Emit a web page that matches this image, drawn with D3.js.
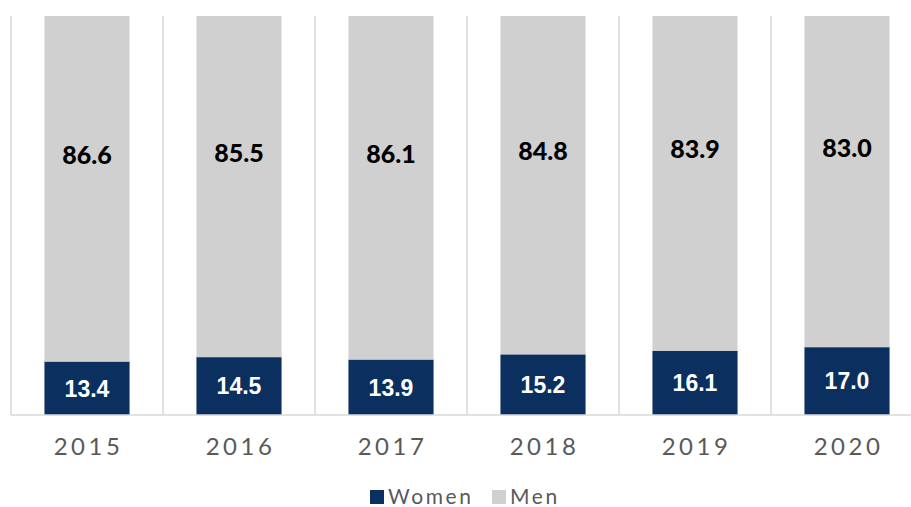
<!DOCTYPE html>
<html>
<head>
<meta charset="utf-8">
<script src="https://cdn.jsdelivr.net/npm/d3@7"></script>
<style>
  html, body { margin: 0; padding: 0; background: #fff; }
  svg { display: block; }
  .lbl-women { font-family: "Liberation Sans", Arial, Helvetica, sans-serif; font-weight: 700; }
  .lbl-men { font-family: Lato, "Noto Sans", sans-serif; font-weight: 900; }
  .cat, .legend-text { font-family: Lato, "Noto Sans", sans-serif; }
</style>
</head>
<body>
<div id="chart"></div>
<script>
(function(){
  "use strict";

  // chart data
  const years = ["2015", "2016", "2017", "2018", "2019", "2020"];
  const women = [13.4, 14.5, 13.9, 15.2, 16.1, 17.0];
  const men = [86.6, 85.5, 86.1, 84.8, 83.9, 83.0];
  const seriesNames = ["Women", "Men"];

  const colors = { Women: "#0b2f5f", Men: "#cfd0cf" };

  const width = 911, height = 507;
  const plot = { left: 11, right: 923, top: 16, bottom: 415 };

  const svg = d3.select("#chart").append("svg")
    .attr("width", width)
    .attr("height", height);

  // scales: plot runs past the right edge, as in the original crop
  const padOuter = 0.22;
  const x = d3.scaleBand()
    .domain(years)
    .range([plot.left, plot.right])
    .paddingInner(0.44)
    .paddingOuter(padOuter);

  const y = d3.scaleLinear()
    .domain([0, 100])
    .range([plot.bottom, plot.top]);

  const step = x.step();

  // vertical separators between categories
  svg.append("g")
    .selectAll("line")
    .data(years)
    .enter().append("line")
      .attr("x1", d => x(d) - step * padOuter)
      .attr("x2", d => x(d) - step * padOuter)
      .attr("y1", plot.top)
      .attr("y2", plot.bottom)
      .attr("stroke", "#d9d9d9")
      .attr("stroke-width", 1.5);

  // stacked rows
  const rows = years.map((yr, i) => ({ year: yr, Women: women[i], Men: men[i] }));
  const stacked = d3.stack().keys(seriesNames)(rows);

  svg.append("g")
    .selectAll("g")
    .data(stacked)
    .enter().append("g")
      .attr("fill", d => colors[d.key])
    .selectAll("rect")
    .data(d => d)
    .enter().append("rect")
      .attr("x", d => x(d.data.year))
      .attr("width", x.bandwidth())
      .attr("y", d => y(d[1]))
      .attr("height", d => y(d[0]) - y(d[1]));

  // x axis line
  svg.append("line")
    .attr("x1", plot.left)
    .attr("x2", width)
    .attr("y1", plot.bottom)
    .attr("y2", plot.bottom)
    .attr("stroke", "#d9d9d9")
    .attr("stroke-width", 1.5);

  // women labels, centred in segment
  svg.append("g")
    .selectAll("text")
    .data(rows)
    .enter().append("text")
      .attr("class", "lbl-women")
      .attr("x", d => x(d.year) + x.bandwidth() / 2)
      .attr("y", d => y(d.Women / 2))
      .attr("dy", "0.36em")
      .attr("text-anchor", "middle")
      .attr("fill", "#fff")
      .attr("font-size", 23)
      .text(d => d.Women.toFixed(1));

  // men labels, sit a bit above the middle of the segment
  svg.append("g")
    .selectAll("text")
    .data(rows)
    .enter().append("text")
      .attr("class", "lbl-men")
      .attr("x", d => x(d.year) + x.bandwidth() / 2)
      .attr("y", d => y(d.Women + d.Men / 2 + 8.5))
      .attr("dy", "0.36em")
      .attr("text-anchor", "middle")
      .attr("fill", "#000")
      .attr("font-size", 25)
      .text(d => d.Men.toFixed(1));

  // category labels
  svg.append("g")
    .selectAll("text")
    .data(years)
    .enter().append("text")
      .attr("class", "cat")
      .attr("x", d => x(d) + x.bandwidth() / 2 + 1.5)
      .attr("y", 455)
      .attr("text-anchor", "middle")
      .attr("fill", "#595959")
      .attr("font-size", 24)
      .attr("letter-spacing", 3.5)
      .text(d => d);

  // legend
  const legend = svg.append("g").attr("transform", "translate(370,490)");
  const legendX = [0, 122];
  const items = legend.selectAll("g")
    .data(seriesNames)
    .enter().append("g")
      .attr("transform", (d, i) => "translate(" + legendX[i] + ",0)");

  items.append("rect")
    .attr("width", 14)
    .attr("height", 14)
    .attr("fill", d => colors[d]);

  items.append("text")
    .attr("class", "legend-text")
    .attr("x", 18)
    .attr("y", 14)
    .attr("fill", "#595959")
    .attr("font-size", 21)
    .attr("letter-spacing", 2.6)
    .text(d => d);

})();
</script>
</body>
</html>
